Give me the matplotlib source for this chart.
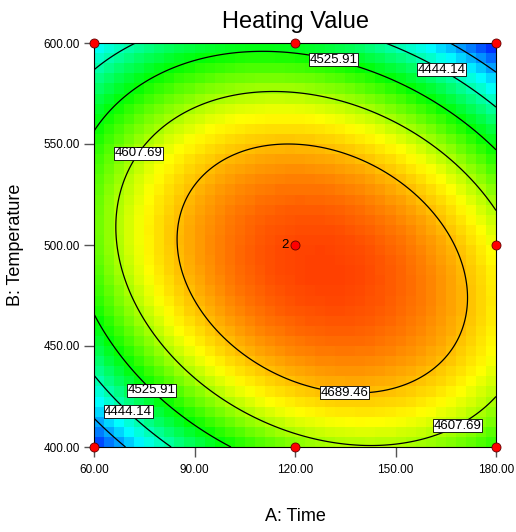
import numpy as np
import matplotlib
matplotlib.use("Agg")
import matplotlib.pyplot as plt
from matplotlib.colors import LinearSegmentedColormap

plt.rcParams['font.family'] = ['Liberation Sans', 'DejaVu Sans']

# quadratic model in coded units (a = time, b = temperature)
b0 = 4764.91
b1 = 33.68
b2 = -39.78
b11 = -162.33
b22 = -223.05
b12 = -89.42

levels = [4362.37, 4444.14, 4525.91, 4607.69, 4689.46]
time_ticks = [60, 90, 120, 150, 180]
temp_ticks = [400, 450, 500, 550, 600]

# design points
run_time = [60, 120, 180, 60, 120, 180, 180, 120]
run_temp = [600, 600, 600, 400, 400, 400, 500, 500]

# where the contour labels sit
label_time = [131.9, 164.5, 71.6, 78.2, 70.7, 134.9, 167.8]
label_temp = [595.0, 588.6, 547.3, 429.7, 418.3, 429.2, 412.4]


def model(t, T):
    a = (t - 120) / 60
    b = (T - 500) / 100
    return b0 + b1*a + b2*b + b11*a**2 + b22*b**2 + b12*a*b


fig = plt.figure(figsize=(5.16, 5.32), dpi=100)
ax = fig.add_axes([94/516, 85/532, 402/516, 404/532])

cmap = LinearSegmentedColormap.from_list('de', ['#0000ff', '#00ffff', '#00ff00', '#ffff00', '#ff4000'])

xf = np.linspace(60, 180, 301)
yf = np.linspace(400, 600, 301)
XF, YF = np.meshgrid(xf, yf)
ZF = model(XF, YF)

# coarse cells like the original
n = 40
xe = np.linspace(60, 180, n + 1)
ye = np.linspace(400, 600, n + 1)
xc = (xe[:-1] + xe[1:]) / 2
yc = (ye[:-1] + ye[1:]) / 2
Z = model(*np.meshgrid(xc, yc))
ax.pcolormesh(xe, ye, Z, cmap=cmap, vmin=ZF.min(), vmax=ZF.max())

cs = ax.contour(XF, YF, ZF, levels=levels, colors='black', linewidths=0.9)
labs = ax.clabel(cs, fmt='%.2f', inline=False, fontsize=9.5,
                 manual=list(zip(label_time, label_temp)))
for t in labs:
    t.set_rotation(0)
    t.set_bbox(dict(facecolor='white', edgecolor='black', linewidth=0.6, pad=0.4))
    t.set_zorder(4)

ax.plot(run_time, run_temp, 'o', color='#ff0000', mec='#600000', mew=0.6, ms=6.5, clip_on=False, zorder=5)
ax.text(118, 500, '2', ha='right', va='center', fontsize=9.5)

ax.set_xlim(60, 180)
ax.set_ylim(400, 600)
ax.set_xticks(time_ticks)
ax.set_yticks(temp_ticks)
ax.set_xticklabels(['%.2f' % v for v in time_ticks])
ax.set_yticklabels(['%.2f' % v for v in temp_ticks])
ax.tick_params(length=7, width=1, color='#555555', labelsize=8.5)
ax.tick_params(axis='x', pad=5)
ax.tick_params(axis='y', pad=3)
ax.set_xlabel('A: Time', fontsize=13, labelpad=23)
ax.set_ylabel('B: Temperature', fontsize=13, labelpad=14)
ax.set_title('Heating Value', fontsize=17, pad=11)

fig.savefig('out.png', dpi=100)
